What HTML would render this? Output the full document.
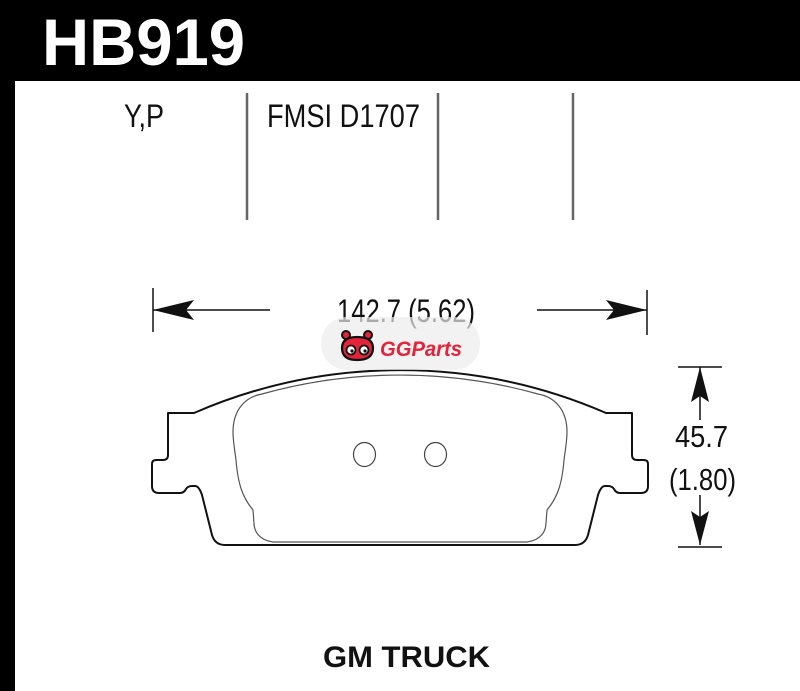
<!DOCTYPE html>
<html>
<head>
<meta charset="utf-8">
<style>
  html,body{margin:0;padding:0;background:#fff;}
  svg{display:block;}
</style>
</head>
<body>
<svg width="800" height="691" viewBox="0 0 800 691" xmlns="http://www.w3.org/2000/svg">
  <rect x="0" y="0" width="800" height="691" fill="#fff"/>
  <!-- header -->
  <rect x="0" y="0" width="800" height="81" fill="#000"/>
  <rect x="0" y="0" width="15" height="691" fill="#000"/>
  <text x="42" y="65" font-family="Liberation Sans, sans-serif" font-weight="bold" font-size="66" fill="#fff" textLength="203" lengthAdjust="spacingAndGlyphs">HB919</text>

  <!-- top labels & separators -->
  <text x="124" y="127" font-family="Liberation Sans, sans-serif" font-size="32" fill="#111" textLength="40" lengthAdjust="spacingAndGlyphs">Y,P</text>
  <text x="267" y="127" font-family="Liberation Sans, sans-serif" font-size="32" fill="#111" textLength="153" lengthAdjust="spacingAndGlyphs">FMSI D1707</text>
  <g stroke="#666" stroke-width="2.5">
    <line x1="247" y1="93" x2="247" y2="220"/>
    <line x1="438" y1="93" x2="438" y2="220"/>
    <line x1="573" y1="93" x2="573" y2="220"/>
  </g>

  <!-- width dimension -->
  <g stroke="#111" stroke-width="1.5" fill="none">
    <line x1="153" y1="288" x2="153" y2="332"/>
    <line x1="153" y1="310" x2="270" y2="310"/>
    <line x1="647" y1="290" x2="647" y2="335"/>
    <line x1="537" y1="310" x2="647" y2="310"/>
  </g>
  <polygon points="153,310 194,300 186,310 194,320" fill="#111"/>
  <polygon points="647,310 606,300 614,310 606,320" fill="#111"/>
  <text x="337" y="322" font-family="Liberation Sans, sans-serif" font-size="32" fill="#111" textLength="138" lengthAdjust="spacingAndGlyphs">142.7 (5.62)</text>

  <!-- height dimension -->
  <g stroke="#111" stroke-width="1.5" fill="none">
    <line x1="678" y1="367" x2="722" y2="367"/>
    <line x1="700" y1="367" x2="700" y2="420"/>
    <line x1="700" y1="495" x2="700" y2="545"/>
    <line x1="678" y1="547" x2="722" y2="547"/>
  </g>
  <polygon points="700,367 691,402 700,396 709,402" fill="#111"/>
  <polygon points="700,545 691,511 700,517 709,511" fill="#111"/>
  <text x="675" y="447" font-family="Liberation Sans, sans-serif" font-size="31" fill="#111" textLength="53" lengthAdjust="spacingAndGlyphs">45.7</text>
  <text x="669" y="490" font-family="Liberation Sans, sans-serif" font-size="31" fill="#111" textLength="67" lengthAdjust="spacingAndGlyphs">(1.80)</text>

  <!-- pad outline -->
  <path d="M194 413 A517 517 0 0 1 606 413 L632 413 L632 455 Q632 460 637 460 L644 460 Q648 460 648 464 L648 486 Q648 493 641 493 L620 493 Q616 493 614 489 Q612 486 608 486 L605 486 Q601 486 598 495 L588 535 Q585 545 575 545 L225 545 Q215 545 212 535 L202 495 Q199 486 195 486 L192 486 Q188 486 186 489 Q184 493 180 493 L159 493 Q152 493 152 486 L152 464 Q152 460 156 460 L163 460 Q168 460 168 455 L168 413 Z"
        fill="none" stroke="#111" stroke-width="2" stroke-linejoin="round"/>
  <!-- friction material -->
  <path d="M262 394 A512 512 0 0 1 538 394 C555 397 567 410 567 432 C567 440 566 445 564 460 C562 485 557 498 547 510 L546 523 C546 530 542 540 527 542 L273 542 C258 540 254 530 254 523 L253 510 C243 498 238 485 236 460 C234 445 233 440 233 432 C233 410 245 397 262 394 Z"
        fill="none" stroke="#555" stroke-width="1.2"/>
  <ellipse cx="364.5" cy="454.5" rx="11" ry="12" fill="none" stroke="#444" stroke-width="1.2"/>
  <ellipse cx="435.5" cy="454.5" rx="11" ry="12" fill="none" stroke="#444" stroke-width="1.2"/>

  <!-- watermark -->
  <rect x="321" y="317" width="159" height="53" rx="26" ry="26" fill="rgba(236,236,236,0.7)"/>
  <g>
    <circle cx="346" cy="335" r="4" fill="#e3243b" stroke="#111" stroke-width="2"/>
    <circle cx="368" cy="335" r="4" fill="#e3243b" stroke="#111" stroke-width="2"/>
    <path d="M342 348 Q342 337 357 337 Q373 337 373 348 Q373 360 357 360 Q342 360 342 348 Z" fill="#e3243b" stroke="#111" stroke-width="2.2"/>
    <circle cx="351" cy="350" r="4.5" fill="#fff" stroke="#111" stroke-width="1.8"/>
    <circle cx="364" cy="350" r="4.5" fill="#fff" stroke="#111" stroke-width="1.8"/>
    <circle cx="352" cy="351" r="1.6" fill="#111"/>
    <circle cx="365" cy="351" r="1.6" fill="#111"/>
  </g>
  <text x="380" y="356" font-family="Liberation Sans, sans-serif" font-weight="bold" font-style="italic" font-size="21" fill="#e3243b" textLength="82" lengthAdjust="spacingAndGlyphs">GGParts</text>

  <!-- footer -->
  <text x="323" y="667" font-family="Liberation Sans, sans-serif" font-weight="bold" font-size="30" fill="#111" textLength="167" lengthAdjust="spacingAndGlyphs">GM TRUCK</text>
</svg>
</body>
</html>
